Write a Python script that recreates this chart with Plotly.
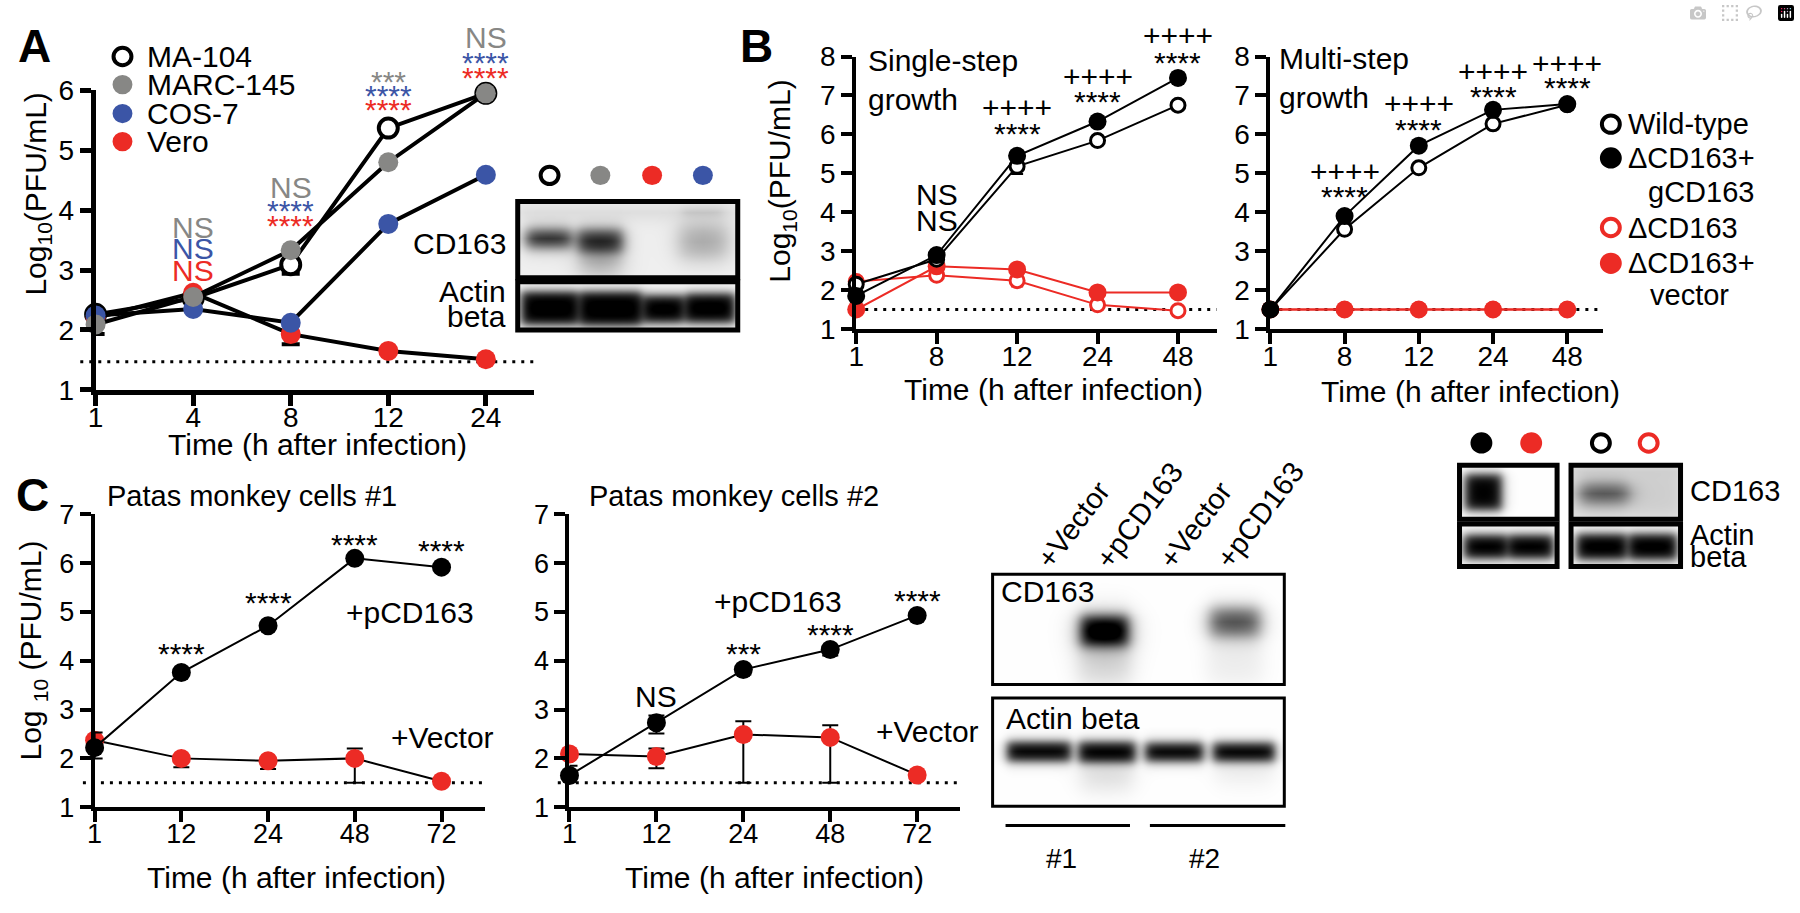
import base64
import struct
import zlib

import numpy as np
import plotly.graph_objects as go

W, H = 1800, 913
FONT = "Liberation Sans, Arial, Helvetica, sans-serif"
RED, GRAY, BLUE, BLACK = "#EC2B25", "#878785", "#3B55A6", "#000000"

# ---------------------------------------------------------------- data
A_times = ["1", "4", "8", "12", "24"]
A_names = ["MA-104", "MARC-145", "COS-7", "Vero"]
A_ma104 = [2.26, 2.53, 3.09, 5.37, 5.95]
A_marc145 = [2.09, 2.55, 3.33, 4.80, 5.95]
A_cos7 = [2.24, 2.35, 2.12, 3.77, 4.59]
A_vero = [2.20, 2.62, 1.93, 1.65, 1.51]
A_ma104_err_lo = [0, 0, 0.15, 0, 0]
A_marc145_err_lo = [0.16, 0, 0, 0, 0]
A_vero_err_lo = [0, 0, 0.17, 0, 0]
A_lod = 1.47

B_times = ["1", "8", "12", "24", "48"]
B1_wt = [2.15, 2.79, 5.18, 5.84, 6.75]
B1_gcd = [1.85, 2.90, 5.45, 6.33, 7.45]
B1_ko = [2.22, 2.38, 2.24, 1.62, 1.47]
B1_vec = [1.50, 2.61, 2.53, 1.94, 1.94]
B1_wt_err_lo = [0, 0, 0.20, 0, 0]
B1_ko_err_lo = [0, 0, 0.15, 0, 0]
B2_wt = [1.50, 3.56, 5.14, 6.27, 6.76]
B2_gcd = [1.50, 3.90, 5.71, 6.63, 6.78]
B2_ko = [1.50, 1.50, 1.50, 1.50, 1.50]
B2_vec = [1.50, 1.50, 1.50, 1.50, 1.50]
B_lod = 1.5

C_times = ["1", "12", "24", "48", "72"]
C1_pcd = [2.22, 3.76, 4.72, 6.10, 5.92]
C1_vec = [2.37, 2.00, 1.95, 2.00, 1.53]
C1_pcd_err_hi = [0.31, 0, 0, 0, 0]
C1_pcd_err_lo = [0.22, 0, 0, 0, 0]
C1_vec_err_hi = [0, 0, 0, 0.20, 0]
C1_vec_err_lo = [0, 0.18, 0.17, 0.50, 0]
C2_pcd = [1.65, 2.73, 3.82, 4.23, 4.93]
C2_vec = [2.09, 2.04, 2.49, 2.43, 1.66]
C2_pcd_err_hi = [0.20, 0.15, 0, 0, 0]
C2_pcd_err_lo = [0, 0.22, 0.10, 0.12, 0]
C2_vec_err_hi = [0, 0.16, 0.27, 0.25, 0]
C2_vec_err_lo = [0, 0.24, 0.99, 0.93, 0]
C_lod = 1.5

# significance labels: (time index, [(text, colour), ...] top -> bottom)
A_stats = [(1, [("NS", GRAY), ("NS", BLUE), ("NS", RED)]),
           (2, [("NS", GRAY), ("****", BLUE), ("****", RED)]),
           (3, [("***", GRAY), ("****", BLUE), ("****", RED)]),
           (4, [("NS", GRAY), ("****", BLUE), ("****", RED)])]
B1_stats = [(1, [("NS", BLACK), ("NS", BLACK)]),
            (2, [("++++", BLACK), ("****", BLACK)]),
            (3, [("++++", BLACK), ("****", BLACK)]),
            (4, [("++++", BLACK), ("****", BLACK)])]
B2_stats = [(1, [("++++", BLACK), ("****", BLACK)]),
            (2, [("++++", BLACK), ("****", BLACK)]),
            (3, [("++++", BLACK), ("****", BLACK)]),
            (4, [("++++", BLACK), ("****", BLACK)])]
C1_stats = [(1, [("****", BLACK)]), (2, [("****", BLACK)]),
            (3, [("****", BLACK)]), (4, [("****", BLACK)])]
C2_stats = [(1, [("NS", BLACK)]), (2, [("***", BLACK)]),
            (3, [("****", BLACK)]), (4, [("****", BLACK)])]

# ---------------------------------------------------------------- layout constants (pixel offsets)
A_stat_off = {1: [65, 44, 22], 2: [63, 46, 31], 3: [53, 39, 25], 4: [56, 37, 22]}
B1_stat_off = {1: [61, 35], 2: [48, 29], 3: [45, 27], 4: [42, 22]}
B2_stat_off = {1: [45, 26], 2: [42, 23], 3: [38, 20], 4: [41, 23]}
C1_stat_off = {1: [26], 2: [30], 3: [20], 4: [23]}
C2_stat_off = {1: [26], 2: [23], 3: [22], 4: [22]}


def X(px):
    return px / W


def Y(py):
    return 1 - py / H


def xaxis(x0, x1, y_anchor, rng, lw, fs):
    return dict(domain=[X(x0), X(x1)], range=[0, rng], type="category", anchor=y_anchor,
                showline=True, linecolor="black", linewidth=lw, ticks="outside", ticklen=11,
                tickwidth=lw, tickcolor="black", showgrid=False, zeroline=False,
                ticklabelstandoff=-12,
                tickfont=dict(size=fs, color="black", family=FONT), fixedrange=True)


def yaxis(ytop, ybot, x_anchor, lo, hi, lw, fs):
    return dict(domain=[Y(ybot), Y(ytop)], range=[lo, hi], anchor=x_anchor,
                tickmode="linear", tick0=1, dtick=1,
                showline=True, linecolor="black", linewidth=lw, ticks="outside", ticklen=11,
                tickwidth=lw, tickcolor="black", showgrid=False, zeroline=False,
                tickfont=dict(size=fs, color="black", family=FONT), fixedrange=True)


def tr(x, y, xa, ya, color, open_, size, lw, lcolor, mlw=3, ehi=None, elo=None,
       ethick=2, ewidth=7, name=None):
    d = dict(x=x, y=y, xaxis=xa, yaxis=ya, mode="lines+markers", name=name,
             showlegend=False, cliponaxis=False,
             line=dict(color=lcolor, width=lw),
             marker=dict(size=size, color="white" if open_ else color,
                         line=dict(color=color, width=mlw if open_ else 0)))
    if ehi is not None or elo is not None:
        zeros = [0 for _ in y]
        d["error_y"] = dict(type="data", symmetric=False, array=ehi or zeros,
                            arrayminus=elo or zeros, color=lcolor, thickness=ethick,
                            width=ewidth)
    return go.Scatter(**d)


fig = go.Figure()

# ---- panel A (MA-104 first so the others sit on top of its ring)
fig.add_trace(tr(A_times, A_ma104, "x", "y", BLACK, True, 19, 4, BLACK, mlw=4,
                 elo=A_ma104_err_lo, ethick=4, ewidth=9, name=A_names[0]))
fig.add_trace(tr(A_times, A_vero, "x", "y", RED, False, 20, 4, BLACK,
                 elo=A_vero_err_lo, ethick=4, ewidth=9, name=A_names[3]))
fig.add_trace(tr(A_times, A_cos7, "x", "y", BLUE, False, 20, 4, BLACK, name=A_names[2]))
fig.add_trace(tr(A_times, A_marc145, "x", "y", GRAY, False, 20, 4, BLACK,
                 elo=A_marc145_err_lo, ethick=4, ewidth=9, name=A_names[1]))

# ---- panel B
for xa, ya, wt, gcd, ko, vec, ewt, eko in [
        ("x2", "y2", B1_wt, B1_gcd, B1_ko, B1_vec, B1_wt_err_lo, B1_ko_err_lo),
        ("x3", "y3", B2_wt, B2_gcd, B2_ko, B2_vec, None, None)]:
    fig.add_trace(tr(B_times, ko, xa, ya, RED, True, 14, 2, RED, mlw=3, elo=eko, ewidth=6))
    fig.add_trace(tr(B_times, vec, xa, ya, RED, False, 18, 2, RED))
    fig.add_trace(tr(B_times, wt, xa, ya, BLACK, True, 14, 2, BLACK, mlw=3, elo=ewt, ewidth=6))
    fig.add_trace(tr(B_times, gcd, xa, ya, BLACK, False, 18, 2, BLACK))

# ---- panel C
fig.add_trace(tr(C_times, C1_vec, "x4", "y4", RED, False, 19, 2, BLACK,
                 ehi=C1_vec_err_hi, elo=C1_vec_err_lo, ewidth=8))
fig.add_trace(tr(C_times, C1_pcd, "x4", "y4", BLACK, False, 19, 2, BLACK,
                 ehi=C1_pcd_err_hi, elo=C1_pcd_err_lo, ewidth=8))
fig.add_trace(tr(C_times, C2_vec, "x5", "y5", RED, False, 19, 2, BLACK,
                 ehi=C2_vec_err_hi, elo=C2_vec_err_lo, ewidth=8))
fig.add_trace(tr(C_times, C2_pcd, "x5", "y5", BLACK, False, 19, 2, BLACK,
                 ehi=C2_pcd_err_hi, elo=C2_pcd_err_lo, ewidth=8))

annots = []
shapes = []
images = []


def txt(text, px, py, size=30, color="black", xanchor="center", yanchor="middle",
        angle=0, bold=False, align="center"):
    annots.append(dict(text=f"<b>{text}</b>" if bold else text, x=X(px), y=Y(py),
                       xref="paper", yref="paper", showarrow=False, xanchor=xanchor,
                       yanchor=yanchor, textangle=angle, align=align,
                       font=dict(size=size, color=color, family=FONT)))


def stats(series, labels, offsets, xref, yref, fs=30):
    # x is the category index of the time point on a category axis
    for idx, items in labels:
        top = max(s[idx] for s in series)
        for (t, col), off in zip(items, offsets[idx]):
            shift = off - (0.22 * fs if t.startswith("*") else 0)
            annots.append(dict(text=t, x=idx, y=top, xref=xref, yref=yref,
                               showarrow=False, yshift=shift, xanchor="center",
                               yanchor="middle", font=dict(size=fs, color=col, family=FONT)))


def circ(cx, cy, r, color, open_=False, lw=4):
    if open_:
        rr = r - lw / 2
        shapes.append(dict(type="circle", xref="paper", yref="paper", x0=X(cx - rr),
                           x1=X(cx + rr), y0=Y(cy + rr), y1=Y(cy - rr),
                           line=dict(color=color, width=lw), fillcolor="white"))
    else:
        shapes.append(dict(type="circle", xref="paper", yref="paper", x0=X(cx - r),
                           x1=X(cx + r), y0=Y(cy + r), y1=Y(cy - r),
                           line=dict(width=0), fillcolor=color))


def frame(x0, y0, x1, y1, lw):
    shapes.append(dict(type="rect", xref="paper", yref="paper", x0=X(x0), x1=X(x1),
                       y0=Y(y1), y1=Y(y0), line=dict(color="black", width=lw),
                       fillcolor="rgba(0,0,0,0)"))


def hline(x0, x1, y, lw=3):
    shapes.append(dict(type="line", xref="paper", yref="paper", x0=X(x0), x1=X(x1),
                       y0=Y(y), y1=Y(y), line=dict(color="black", width=lw)))


def lod(xref, yref, val, x0=-0.03):
    shapes.append(dict(type="line", xref=f"{xref} domain", yref=yref, x0=x0, x1=1.0,
                       y0=val, y1=val, layer="below",
                       line=dict(color="black", width=3, dash="3px,6px")))


def png_uri(gray):
    h, w = gray.shape
    raw = b"".join(b"\x00" + gray[i].tobytes() for i in range(h))

    def chunk(tag, data):
        c = struct.pack(">I", len(data)) + tag + data
        return c + struct.pack(">I", zlib.crc32(tag + data) & 0xFFFFFFFF)

    png = (b"\x89PNG\r\n\x1a\n"
           + chunk(b"IHDR", struct.pack(">IIBBBBB", w, h, 8, 0, 0, 0, 0))
           + chunk(b"IDAT", zlib.compress(raw, 9)) + chunk(b"IEND", b""))
    return "data:image/png;base64," + base64.b64encode(png).decode()


def blot(x0, y0, x1, y1, bg, bands):
    w, h = int(x1 - x0), int(y1 - y0)
    yy, xx = np.mgrid[0:h, 0:w].astype(float)
    d = np.full((h, w), float(bg))
    for (bx0, bx1, by0, by1, k, s) in bands:
        fx = 1 / (1 + np.exp((np.abs(xx - (bx0 + bx1) / 2) - (bx1 - bx0) / 2) / s))
        fy = 1 / (1 + np.exp((np.abs(yy - (by0 + by1) / 2) - (by1 - by0) / 2) / s))
        d += k * fx * fy
    g = (255 * (1 - np.clip(d, 0, 1))).astype(np.uint8)
    images.append(dict(source=png_uri(g), xref="paper", yref="paper", x=X(x0), y=Y(y0),
                       sizex=w / W, sizey=h / H, xanchor="left", yanchor="top",
                       sizing="stretch", layer="below"))


# ---------------------------------------------------------------- panel A decorations
txt("A", 27, 32, size=46, bold=True)
lod("x", "y", A_lod, x0=-0.035)
for (name, col, op), cy in zip([(A_names[0], BLACK, True), (A_names[1], GRAY, False),
                                (A_names[2], BLUE, False), (A_names[3], RED, False)],
                               [43, 72, 102, 131]):
    circ(115, cy, 11 if op else 10, col, open_=op, lw=4)
    txt(name, 138, cy, size=30, xanchor="left")
stats([A_ma104, A_marc145, A_cos7, A_vero], A_stats, A_stat_off, "x", "y")
txt("Log<sub>10</sub>(PFU/mL)", 30, 185, size=30, angle=-90)
txt("Time (h after infection)", 311, 445, size=30)
# blot A
for cx, col, op in [(544, BLACK, True), (595, GRAY, False), (647, RED, False), (698, BLUE, False)]:
    circ(cx, 166, 11 if op else 10, col, open_=op, lw=4)
blot(512, 193, 733, 272, 0.06,
     [(0, 221, 4, 18, 0.08, 5), (8, 53, 29, 47, 0.8, 4), (60, 105, 29, 52, 0.8, 4),
      (62, 103, 50, 76, 0.25, 6), (162, 210, 24, 58, 0.28, 6), (165, 205, 8, 14, 0.1, 3)])
blot(512, 276, 733, 326, 0.03,
     [(3, 60, 10, 44, 1.0, 3), (62, 124, 10, 45, 1.0, 3), (126, 166, 14, 42, 1.0, 3),
      (168, 218, 12, 42, 1.0, 3)])
frame(512, 193, 733, 272, 5)
frame(512, 276, 733, 326, 5)
txt("CD163", 502, 237, size=30, xanchor="right")
txt("Actin", 502, 286, size=30, xanchor="right")
txt("beta", 502, 312, size=30, xanchor="right")

# ---------------------------------------------------------------- panel B decorations
txt("B", 752, 32, size=46, bold=True)
lod("x2", "y2", B_lod, x0=0)
lod("x3", "y3", B_lod, x0=0)
txt("Single-step<br>growth", 862, 67, size=30, xanchor="left", align="left")
txt("Multi-step<br>growth", 1275, 65, size=30, xanchor="left", align="left")
stats([B1_wt, B1_gcd, B1_ko, B1_vec], B1_stats, B1_stat_off, "x2", "y2")
stats([B2_wt, B2_gcd, B2_ko, B2_vec], B2_stats, B2_stat_off, "x3", "y3")
txt("Log<sub>10</sub>(PFU/mL)", 777, 172, size=30, angle=-90)
txt("Time (h after infection)", 1050, 388, size=30)
txt("Time (h after infection)", 1469, 390, size=30)
# legend B
circ(1610, 113, 11, BLACK, open_=True, lw=4)
txt("Wild-type", 1625, 113, size=29, xanchor="left")
circ(1610, 148, 11, BLACK)
txt("ΔCD163+", 1625, 148, size=29, xanchor="left")
txt("gCD163", 1645, 183, size=29, xanchor="left")
circ(1610, 220, 11, RED, open_=True, lw=4)
txt("ΔCD163", 1625, 220, size=29, xanchor="left")
circ(1610, 257, 11, RED)
txt("ΔCD163+", 1625, 257, size=29, xanchor="left")
txt("vector", 1647, 290, size=29, xanchor="left")
# blot B
circ(1480, 443, 11, BLACK)
circ(1530, 443, 11, RED)
circ(1600, 443, 11, BLACK, open_=True, lw=4)
circ(1648, 443, 11, RED, open_=True, lw=4)
blot(1458, 466, 1556, 522, 0.0, [(5, 42, 9, 46, 1.0, 3)])
blot(1458, 527, 1556, 571, 0.02, [(4, 47, 11, 35, 1.0, 3), (49, 94, 11, 35, 1.0, 3)])
blot(1570, 466, 1680, 522, 0.12,
     [(8, 58, 19, 39, 0.6, 5), (62, 108, 8, 50, 0.07, 4), (0, 110, 2, 10, 0.05, 3)])
blot(1570, 527, 1680, 571, 0.03, [(5, 55, 10, 36, 1.0, 3), (58, 106, 10, 36, 1.0, 3)])
frame(1458, 466, 1556, 522, 5)
frame(1458, 527, 1556, 571, 5)
frame(1570, 466, 1680, 522, 5)
frame(1570, 527, 1680, 571, 5)
txt("CD163", 1688, 493, size=29, xanchor="left")
txt("Actin", 1688, 538, size=29, xanchor="left")
txt("beta", 1688, 561, size=29, xanchor="left")

# ---------------------------------------------------------------- panel C decorations
txt("C", 25, 497, size=46, bold=True)
lod("x4", "y4", C_lod, x0=-0.03)
lod("x5", "y5", C_lod, x0=-0.03)
txt("Patas monkey cells #1", 97, 498, size=29, xanchor="left")
txt("Patas monkey cells #2", 582, 498, size=29, xanchor="left")
stats([C1_pcd, C1_vec], C1_stats, C1_stat_off, "x4", "y4")
stats([C2_pcd, C2_vec], C2_stats, C2_stat_off, "x5", "y5")
txt("+pCD163", 337, 618, size=30, xanchor="left")
txt("+Vector", 383, 748, size=30, xanchor="left")
txt("+pCD163", 707, 607, size=30, xanchor="left")
txt("+Vector", 870, 742, size=30, xanchor="left")
txt("Log <sub>10</sub> (PFU/mL)", 25, 658, size=30, angle=-90)
txt("Time (h after infection)", 290, 893, size=30)
txt("Time (h after infection)", 770, 893, size=30)
# blot C
blot(989, 579, 1282, 693, 0.0,
     [(88, 136, 43, 73, 1.0, 4), (86, 138, 70, 112, 0.16, 6), (84, 140, 38, 78, 0.15, 8),
      (218, 268, 35, 63, 0.7, 5), (216, 270, 62, 112, 0.07, 6)])
blot(989, 707, 1282, 819, 0.0,
     [(14, 78, 45, 65, 1.0, 3), (86, 143, 45, 66, 1.0, 3), (153, 211, 46, 65, 1.0, 3),
      (221, 283, 46, 65, 1.0, 3), (88, 140, 66, 95, 0.12, 6), (224, 280, 66, 90, 0.06, 6)])
frame(989, 579, 1282, 693, 3)
frame(989, 707, 1282, 819, 3)
txt("CD163", 995, 597, size=30, xanchor="left")
txt("Actin beta", 1000, 728, size=30, xanchor="left")
for label, cx, cy in [("+Vector", 1070, 528), ("+pCD163", 1137, 518),
                      ("+Vector", 1193, 528), ("+pCD163", 1258, 518)]:
    txt(label, cx, cy, size=29, angle=-53)
hline(1002, 1127, 839)
hline(1147, 1283, 839)
txt("#1", 1058, 873, size=28)
txt("#2", 1202, 873, size=28)

# ---------------------------------------------------------------- axes
fig.update_layout(
    width=W, height=H, margin=dict(l=0, r=0, t=0, b=0),
    paper_bgcolor="white", plot_bgcolor="rgba(0,0,0,0)", showlegend=False,
    font=dict(family=FONT, color="black"),
    xaxis=xaxis(88, 528, "y", 4.49, 5, 28),
    yaxis=yaxis(78, 388, "x", 1, 6, 5, 28),
    xaxis2=xaxis(852, 1214, "y2", 4.48, 4, 28),
    yaxis2=yaxis(43, 325, "x2", 1, 8, 4, 28),
    xaxis3=xaxis(1268, 1602, "y3", 4.48, 4, 28),
    yaxis3=yaxis(43, 325, "x3", 1, 8, 4, 28),
    xaxis4=xaxis(87, 479, "y4", 4.5, 4, 27),
    yaxis4=yaxis(517, 820, "x4", 1, 7, 4, 27),
    xaxis5=xaxis(564, 956, "y5", 4.49, 4, 27),
    yaxis5=yaxis(517, 820, "x5", 1, 7, 4, 27),
    annotations=annots, shapes=shapes, images=images,
)

fig.write_html("out.html", post_script="document.body.style.margin='0';")
